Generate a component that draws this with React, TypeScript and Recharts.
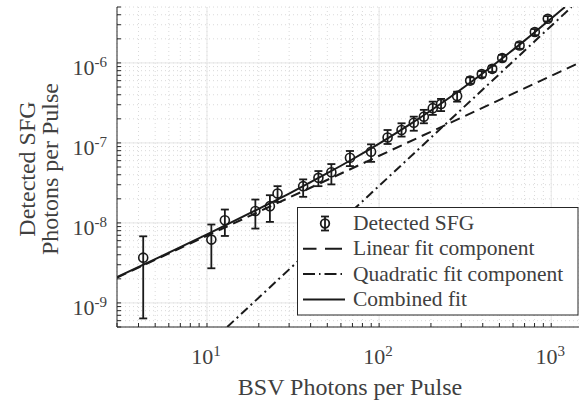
import {
  CartesianGrid,
  ComposedChart,
  ErrorBar,
  Legend,
  Line,
  ReferenceLine,
  Scatter,
  XAxis,
  YAxis,
} from "recharts";

// measured points (BSV photons vs detected SFG photons, both per pulse)
const bsvPhotons = [
  4.26, 10.6, 12.7, 19.1, 23.2, 25.7, 36.2, 44.4, 52.8, 67.7, 89.8, 112, 135,
  159, 182, 205, 229, 284, 338, 395, 454, 519, 655, 803, 955,
];
const sfgPhotons = [
  3.68e-9, 6.19e-9, 1.08e-8, 1.41e-8, 1.62e-8, 2.33e-8, 2.88e-8, 3.66e-8,
  4.29e-8, 6.53e-8, 7.76e-8, 1.17e-7, 1.45e-7, 1.79e-7, 2.13e-7, 2.72e-7,
  3.07e-7, 3.87e-7, 6.01e-7, 7.25e-7, 8.43e-7, 1.15e-6, 1.65e-6, 2.43e-6,
  3.57e-6,
];
const sfgLower = [
  6.4e-10, 2.71e-9, 6.87e-9, 8.5e-9, 1.03e-8, 1.83e-8, 2.12e-8, 2.88e-8,
  3.03e-8, 5.13e-8, 5.8e-8, 9.7e-8, 1.2e-7, 1.42e-7, 1.76e-7, 2.24e-7, 2.5e-7,
  3.28e-7, 5.5e-7, 6.6e-7, 7.7e-7, 1.05e-6, 1.5e-6, 2.22e-6, 3.3e-6,
];
const sfgUpper = [
  6.8e-9, 9.55e-9, 1.47e-8, 1.96e-8, 2.22e-8, 2.88e-8, 3.5e-8, 4.45e-8,
  5.44e-8, 7.93e-8, 9.6e-8, 1.45e-7, 1.76e-7, 2.13e-7, 2.59e-7, 3.28e-7,
  3.55e-7, 4.37e-7, 6.6e-7, 7.9e-7, 9.2e-7, 1.26e-6, 1.8e-6, 2.65e-6, 3.85e-6,
];

// fit curves
const linearX = [3, 1450];
const linearY = [2.07e-9, 1.0e-6];
const quadX = [13.1, 1313];
const quadY = [5e-10, 5e-6];
const combinedX = [3, 5, 10, 20, 30, 50, 70, 100, 150, 200, 300, 500, 700, 1000, 1200];
const combinedY = [
  2.1e-9, 3.52e-9, 7.19e-9, 1.5e-8, 2.33e-8, 4.18e-8, 6.25e-8, 9.8e-8, 1.69e-7,
  2.54e-7, 4.68e-7, 1.07e-6, 1.9e-6, 3.59e-6, 4.98e-6,
];

const xDomain = [3, 1450];
const yDomain = [5e-10, 5e-6];
const xDecades = [1, 10, 100, 1000];
const yDecades = [1e-10, 1e-9, 1e-8, 1e-7, 1e-6];
const xMajor = [10, 100, 1000];
const yMajor = [1e-9, 1e-8, 1e-7, 1e-6];
const minorSteps = [2, 3, 4, 5, 6, 7, 8, 9];

const legendItems = [
  { label: "Detected SFG", kind: "marker" },
  { label: "Linear fit component", kind: "dash" },
  { label: "Quadratic fit component", kind: "dashdot" },
  { label: "Combined fit", kind: "solid" },
];

const inRange = (d: number[]) => (v: number) => v >= d[0] && v <= d[1];
const xMinor = xDecades.flatMap((d) => minorSteps.map((m) => d * m)).filter(inRange(xDomain));
const yMinor = yDecades.flatMap((d) => minorSteps.map((m) => d * m)).filter(inRange(yDomain));
const xTicks = [...xMajor, ...xMinor].sort((a, b) => a - b);
const yTicks = [...yMajor, ...yMinor].sort((a, b) => a - b);

const sfgData = bsvPhotons.map((x, i) => ({
  x,
  y: sfgPhotons[i],
  err: [sfgPhotons[i] - sfgLower[i], sfgUpper[i] - sfgPhotons[i]],
}));
const toPoints = (xs: number[], ys: number[]) => xs.map((x, i) => ({ x, y: ys[i] }));
const linearData = toPoints(linearX, linearY);
const quadData = toPoints(quadX, quadY);
const combinedData = toPoints(combinedX, combinedY);

const AXIS = "#262626";
const TEXT = "#404040";
const INK = "#1a1a1a";
const SERIF = "Liberation Serif, Times New Roman, serif";
const TICK = 4;

const exponent = (v: number) => String(Math.round(Math.log10(v)));

function BottomTick({ x, y, payload }: any) {
  const v = payload.value;
  return (
    <g>
      <line x1={x} y1={y} x2={x} y2={y - TICK} stroke={AXIS} />
      {xMajor.includes(v) && (
        <text x={x - 1} y={y + 37} textAnchor="middle" fill={TEXT} fontFamily={SERIF} fontSize={22}>
          10<tspan dy={-8} fontSize={15}>{exponent(v)}</tspan>
        </text>
      )}
    </g>
  );
}

function TopTick({ x, y }: any) {
  return <line x1={x} y1={y} x2={x} y2={y + TICK} stroke={AXIS} />;
}

function LeftTick({ x, y, payload }: any) {
  const v = payload.value;
  return (
    <g>
      <line x1={x} y1={y} x2={x + TICK} y2={y} stroke={AXIS} />
      {yMajor.includes(v) && (
        <text x={x - 10} y={y + 12} textAnchor="end" fill={TEXT} fontFamily={SERIF} fontSize={22}>
          10<tspan dy={-8} fontSize={15}>{exponent(v)}</tspan>
        </text>
      )}
    </g>
  );
}

function RightTick({ x, y }: any) {
  return <line x1={x} y1={y} x2={x - TICK} y2={y} stroke={AXIS} />;
}

function OpenCircle({ cx, cy }: any) {
  return <circle cx={cx} cy={cy} r={4.5} fill="none" stroke={INK} strokeWidth={1.6} />;
}

function LegendBox() {
  return (
    <svg width={282} height={109} style={{ display: "block" }}>
      <rect x={0.5} y={0.5} width={280.5} height={107.5} fill="#fff" stroke={AXIS} />
      {legendItems.map((item, i) => {
        const base = 23 + i * 25.3;
        const ly = base - 6.5;
        return (
          <g key={item.label}>
            {item.kind === "marker" && (
              <g stroke={INK} strokeWidth={1.8} fill="none">
                <line x1={28} y1={ly - 7} x2={28} y2={ly + 7} />
                <line x1={24} y1={ly - 7} x2={32} y2={ly - 7} />
                <line x1={24} y1={ly + 7} x2={32} y2={ly + 7} />
                <circle cx={28} cy={ly} r={4.3} />
              </g>
            )}
            {item.kind === "dash" && (
              <line x1={6} y1={ly} x2={45} y2={ly} stroke={INK} strokeWidth={2} strokeDasharray="13.5 8.5 17" />
            )}
            {item.kind === "dashdot" && (
              <line x1={6} y1={ly} x2={45} y2={ly} stroke={INK} strokeWidth={2} strokeDasharray="12 4 1.5 4" />
            )}
            {item.kind === "solid" && (
              <line x1={6} y1={ly} x2={48} y2={ly} stroke={INK} strokeWidth={2} />
            )}
            <text x={56} y={base} fill={TEXT} fontFamily={SERIF} fontSize={21.5}>
              {item.label}
            </text>
          </g>
        );
      })}
    </svg>
  );
}

export default function App() {
  return (
    <div style={{ width: 579, height: 403, background: "#fff" }}>
      <style>{`body{margin:0}`}</style>
      <ComposedChart width={579} height={403} margin={{ top: 7, right: 0, bottom: 0, left: 0 }}>
        <CartesianGrid stroke="#dadada" strokeDasharray="1 3" />
        {xMajor.map((v) => (
          <ReferenceLine key={`gx${v}`} x={v} stroke="#e6e6e6" />
        ))}
        {yMajor.map((v) => (
          <ReferenceLine key={`gy${v}`} y={v} stroke="#e6e6e6" />
        ))}
        <XAxis
          dataKey="x"
          type="number"
          scale="log"
          domain={xDomain}
          allowDataOverflow
          ticks={xTicks}
          interval={0}
          tickSize={0}
          tickMargin={0}
          tickLine={false}
          tick={<BottomTick />}
          height={76}
          stroke={AXIS}
          label={{
            content: ({ viewBox }: any) => (
              <text
                x={viewBox.x + viewBox.width / 2 + 2}
                y={395}
                textAnchor="middle"
                fill={TEXT}
                fontFamily={SERIF}
                fontSize={24}
              >
                BSV Photons per Pulse
              </text>
            ),
          }}
        />
        <XAxis
          xAxisId="top"
          orientation="top"
          type="number"
          scale="log"
          domain={xDomain}
          allowDataOverflow
          ticks={xTicks}
          interval={0}
          tickSize={0}
          tickMargin={0}
          tickLine={false}
          tick={<TopTick />}
          height={0}
          stroke={AXIS}
        />
        <YAxis
          dataKey="y"
          type="number"
          scale="log"
          domain={yDomain}
          allowDataOverflow
          ticks={yTicks}
          interval={0}
          tickSize={0}
          tickMargin={0}
          tickLine={false}
          tick={<LeftTick />}
          width={117}
          stroke={AXIS}
          label={{
            content: ({ viewBox }: any) => {
              const cy = viewBox.y + viewBox.height / 2 + 2;
              return (
                <g fill={TEXT} fontFamily={SERIF} fontSize={24} textAnchor="middle">
                  <text x={35} y={cy} transform={`rotate(-90 35 ${cy})`}>
                    Detected SFG
                  </text>
                  <text x={58} y={cy} transform={`rotate(-90 58 ${cy})`}>
                    Photons per Pulse
                  </text>
                </g>
              );
            },
          }}
        />
        <YAxis
          yAxisId="right"
          orientation="right"
          type="number"
          scale="log"
          domain={yDomain}
          allowDataOverflow
          ticks={yTicks}
          interval={0}
          tickSize={0}
          tickMargin={0}
          tickLine={false}
          tick={<RightTick />}
          width={0}
          stroke={AXIS}
        />
        <Line
          data={linearData}
          dataKey="y"
          type="linear"
          stroke={INK}
          strokeWidth={2}
          strokeDasharray="10 6"
          dot={false}
          isAnimationActive={false}
        />
        <Line
          data={quadData}
          dataKey="y"
          type="linear"
          stroke={INK}
          strokeWidth={2}
          strokeDasharray="9 4 2 4"
          dot={false}
          isAnimationActive={false}
        />
        <Line
          data={combinedData}
          dataKey="y"
          type="monotone"
          stroke={INK}
          strokeWidth={2}
          dot={false}
          isAnimationActive={false}
        />
        <Scatter data={sfgData} dataKey="y" shape={<OpenCircle />} isAnimationActive={false}>
          <ErrorBar dataKey="err" direction="y" width={4} stroke={INK} strokeWidth={1.8} />
        </Scatter>
        <Legend
          layout="horizontal"
          verticalAlign="middle"
          align="center"
          wrapperStyle={{ left: 297, top: 207, width: 282, height: 109 }}
          content={() => <LegendBox />}
        />
      </ComposedChart>
    </div>
  );
}
